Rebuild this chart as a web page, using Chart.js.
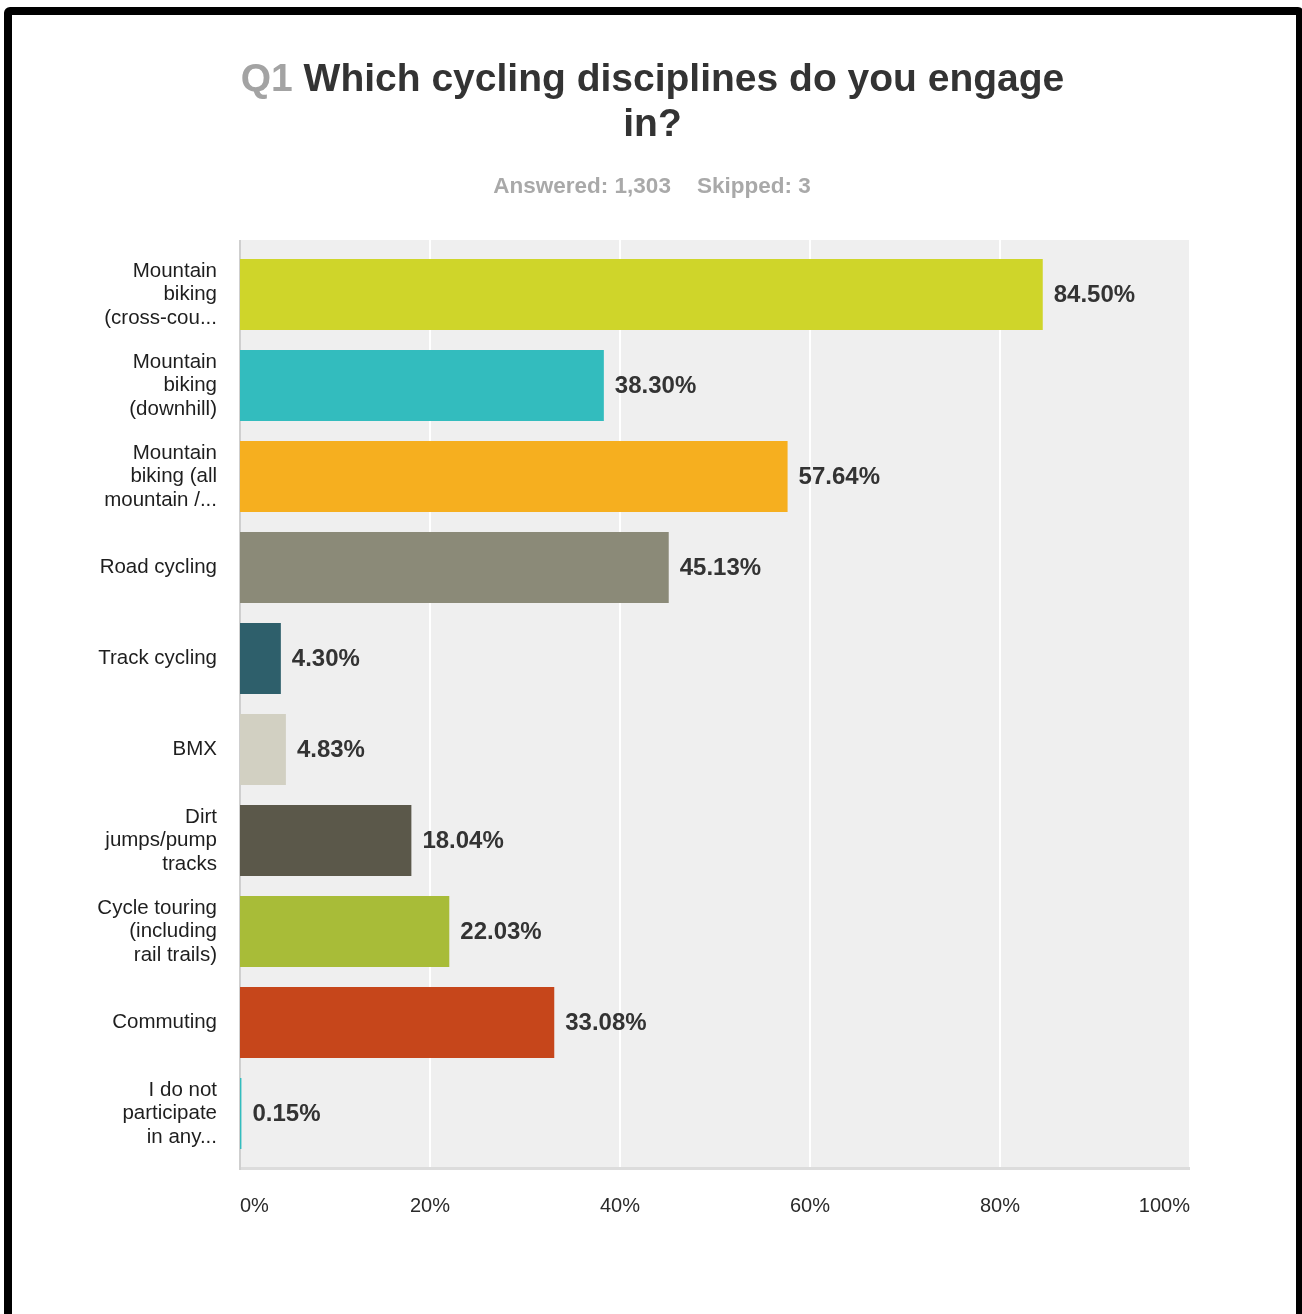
<!DOCTYPE html>
<html>
<head>
<meta charset="utf-8">
<script src="https://cdn.jsdelivr.net/npm/chart.js@4/dist/chart.umd.min.js"></script>
<style>
  html, body { margin: 0; padding: 0; background: #fff; }
  body { width: 1302px; height: 1314px; position: relative; overflow: hidden;
         font-family: "Liberation Sans", Arial, sans-serif; }
  #chart { position: absolute; left: 0; top: 0; }
  #frame { position: absolute; left: 4px; top: 7px; width: 1300px; height: 1340px;
           border: 8px solid #000; border-radius: 6px; box-sizing: border-box; pointer-events: none; }
  #title { position: absolute; left: 0; top: 55px; width: 1305px; text-align: center;
           font-weight: bold; font-size: 39px; line-height: 45px; color: #333; }
  #title .num { color: #a3a3a3; }
  #sub { position: absolute; left: 0; top: 172px; width: 1304px; text-align: center;
         font-weight: bold; font-size: 22.5px; line-height: 28px; color: #a9a9a9; }
  #sub .gap { display: inline-block; width: 26px; }
</style>
</head>
<body>
<canvas id="chart" width="1302" height="1314"></canvas>
<div id="title"><span class="num">Q1</span> Which cycling disciplines do you engage<br>in?</div>
<div id="sub">Answered: 1,303<span class="gap"></span>Skipped: 3</div>
<div id="frame"></div>
<script>
// Answer options (pre-wrapped, long ones truncated with an ellipsis)
const categories = [
  ['Mountain', 'biking', '(cross-cou...'],
  ['Mountain', 'biking', '(downhill)'],
  ['Mountain', 'biking (all', 'mountain /...'],
  'Road cycling',
  'Track cycling',
  'BMX',
  ['Dirt', 'jumps/pump', 'tracks'],
  ['Cycle touring', '(including', 'rail trails)'],
  'Commuting',
  ['I do not', 'participate', 'in any...']
];

// Share of respondents choosing each option (%)
const percentages = [84.50, 38.30, 57.64, 45.13, 4.30, 4.83, 18.04, 22.03, 33.08, 0.15];

const barColors = [
  '#cfd52a', '#33bcbe', '#f6af1f', '#8b8a78', '#2e5f6b',
  '#d2d0c2', '#5b584a', '#a8bc38', '#c6461b', '#33bcbe'
];

const tickLabels = ['0%', '20%', '40%', '60%', '80%', '100%'];

const FONT = "'Liberation Sans', Arial, sans-serif";
Chart.defaults.font.family = FONT;

// Grey plot panel, white grid lines and axis rules, drawn from the x scale
const plotPanel = {
  id: 'plotPanel',
  beforeDraw(chart) {
    const { ctx, chartArea: a, scales: { x } } = chart;
    const ext = 9;
    const top = a.top - ext, bottom = a.bottom + ext;
    ctx.save();
    ctx.fillStyle = '#efefef';
    ctx.fillRect(a.left, top, a.right - a.left, bottom - top);
    ctx.strokeStyle = '#ffffff';
    ctx.lineWidth = 2;
    x.ticks.forEach(t => {
      const px = Math.round(x.getPixelForValue(t.value));
      ctx.beginPath();
      ctx.moveTo(px, top);
      ctx.lineTo(px, bottom);
      ctx.stroke();
    });
    ctx.fillStyle = '#dcdcdc';
    ctx.fillRect(a.left, bottom - 1, a.right - a.left, 3);
    ctx.fillStyle = '#cfcfcf';
    ctx.fillRect(a.left - 1, top, 2, bottom - top + 2);
    ctx.restore();
  }
};

// Percentage printed just past the end of each bar
const valueLabels = {
  id: 'valueLabels',
  afterDatasetsDraw(chart) {
    const { ctx } = chart;
    const meta = chart.getDatasetMeta(0);
    ctx.save();
    ctx.font = 'bold 24px ' + FONT;
    ctx.fillStyle = '#333333';
    ctx.textAlign = 'left';
    ctx.textBaseline = 'middle';
    meta.data.forEach((bar, i) => {
      ctx.fillText(percentages[i].toFixed(2) + '%', bar.x + 11, bar.y + 1);
    });
    ctx.restore();
  }
};

new Chart(document.getElementById('chart'), {
  type: 'bar',
  data: {
    labels: categories,
    datasets: [{
      data: percentages,
      backgroundColor: barColors,
      borderWidth: 0,
      categoryPercentage: 0.78,
      barPercentage: 1.0
    }]
  },
  options: {
    indexAxis: 'y',
    responsive: false,
    animation: false,
    devicePixelRatio: 1,
    layout: { padding: { left: 0, top: 249, right: 112, bottom: 75 } },
    plugins: {
      legend: { display: false },
      tooltip: { enabled: false },
      title: { display: false }
    },
    scales: {
      x: {
        type: 'linear',
        position: 'bottom',
        min: 0,
        max: 100,
        grid: { display: false, drawTicks: false },
        border: { display: false },
        ticks: {
          stepSize: 20,
          align: 'inner',
          padding: 35,
          color: '#2a2a2a',
          font: { size: 20 },
          callback: (v, i) => tickLabels[i]
        },
        afterFit(scale) { scale.height = 80; }
      },
      y: {
        grid: { display: false, drawTicks: false },
        border: { display: false },
        ticks: {
          padding: 23,
          color: '#1e1e1e',
          font: { size: 20.5, lineHeight: 1.15 },
          autoSkip: false
        },
        afterFit(scale) { scale.width = 240; }
      }
    }
  },
  plugins: [plotPanel, valueLabels]
});
</script>
</body>
</html>
